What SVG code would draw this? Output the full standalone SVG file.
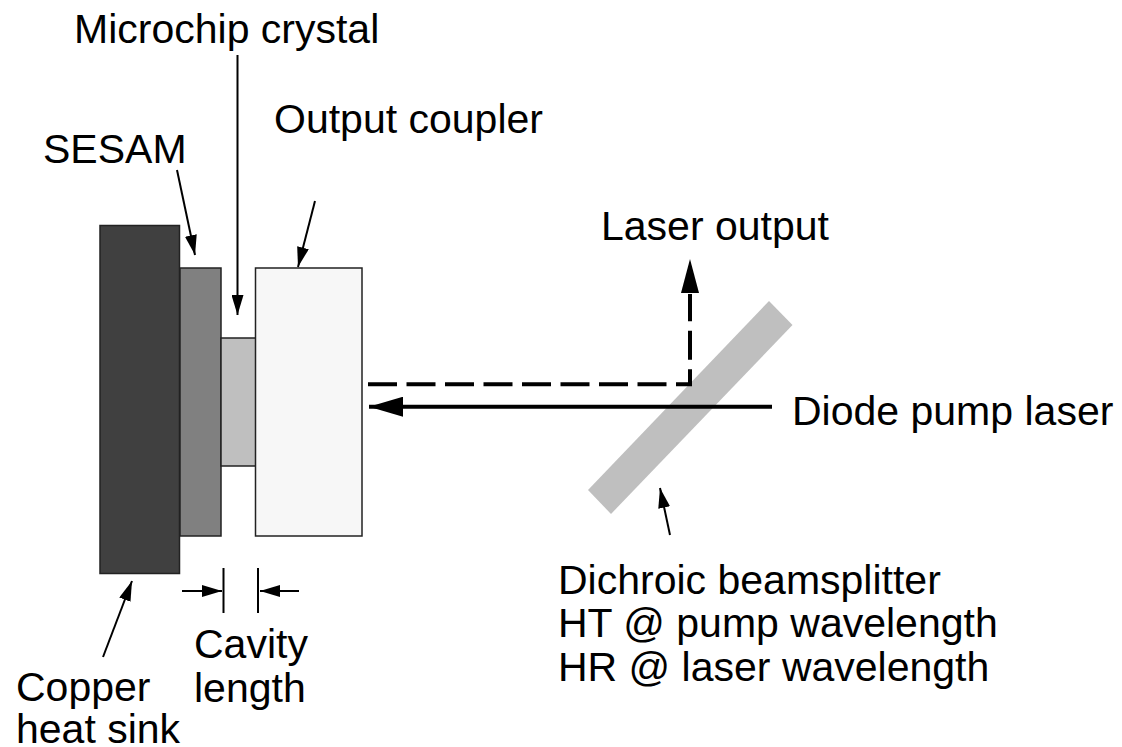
<svg xmlns="http://www.w3.org/2000/svg" width="1122" height="747" viewBox="0 0 1122 747">
<style>
text{font-family:"Liberation Sans",Arial,sans-serif;font-size:41px;fill:#000}
.part{stroke:#222;stroke-width:1.5}
.line{fill:none;stroke:#000;stroke-width:2}
.beam{fill:none;stroke:#000;stroke-width:4}
</style>
<defs>
<marker id="thin" markerUnits="userSpaceOnUse" markerWidth="20" markerHeight="12" refX="20" refY="6" orient="auto"><path d="M0 0L20 6L0 12Z" fill="#000"/></marker>
<marker id="wide" markerUnits="userSpaceOnUse" markerWidth="35" markerHeight="20" refX="34" refY="10" orient="auto"><path d="M0 0L34 10L0 20Z" fill="#000"/></marker>
</defs>
<rect width="1122" height="747" fill="#fff"/>
<g id="heat-sink"><rect class="part" x="100" y="225.5" width="79.5" height="348" fill="#404040"/></g>
<g id="sesam"><rect class="part" x="180" y="268" width="41" height="268" fill="#808080"/></g>
<g id="crystal"><rect class="part" x="221" y="338" width="35" height="128" fill="#bfbfbf"/></g>
<g id="coupler"><rect class="part" x="255.500" y="268" width="106.500" height="268" fill="#f7f7f7"/></g>
<g id="beamsplitter"><polygon points="769,301 792.500,325 611,514 588,490" fill="#bfbfbf"/></g>
<g id="connectors">
<path class="line" marker-end="url(#thin)" d="M177 170L195 255"/>
<path class="line" marker-end="url(#thin)" d="M237.500 55V315"/>
<path class="line" marker-end="url(#thin)" d="M315 201L298 267"/>
<path class="line" marker-end="url(#thin)" d="M103 657L132 581"/>
<path class="line" marker-end="url(#thin)" d="M670 535L660 488"/>
<path class="line" marker-end="url(#thin)" d="M182 591H222"/>
<path class="line" marker-end="url(#thin)" d="M299 591H260"/>
<path class="line" d="M223.500 568V613M258 568V613"/>
<path class="beam" stroke-dasharray="29 9.500" d="M368 384.300H690V294"/>
<path fill="#000" d="M690 259L699 293H681Z"/>
<path class="beam" marker-end="url(#wide)" d="M772 406.700H369"/>
</g>
<g id="labels">
<text x="74" y="43">Microchip crystal</text>
<text x="274" y="133">Output coupler</text>
<text x="43" y="163">SESAM</text>
<text x="601" y="240">Laser output</text>
<text x="792" y="425">Diode pump laser</text>
<text x="558" y="594">Dichroic beamsplitter</text>
<text x="558" y="637">HT @ pump wavelength</text>
<text x="558" y="681">HR @ laser wavelength</text>
<text x="194" y="658">Cavity</text>
<text x="194" y="702">length</text>
<text x="16" y="701">Copper</text>
<text x="16" y="743">heat sink</text>
</g>
</svg>
